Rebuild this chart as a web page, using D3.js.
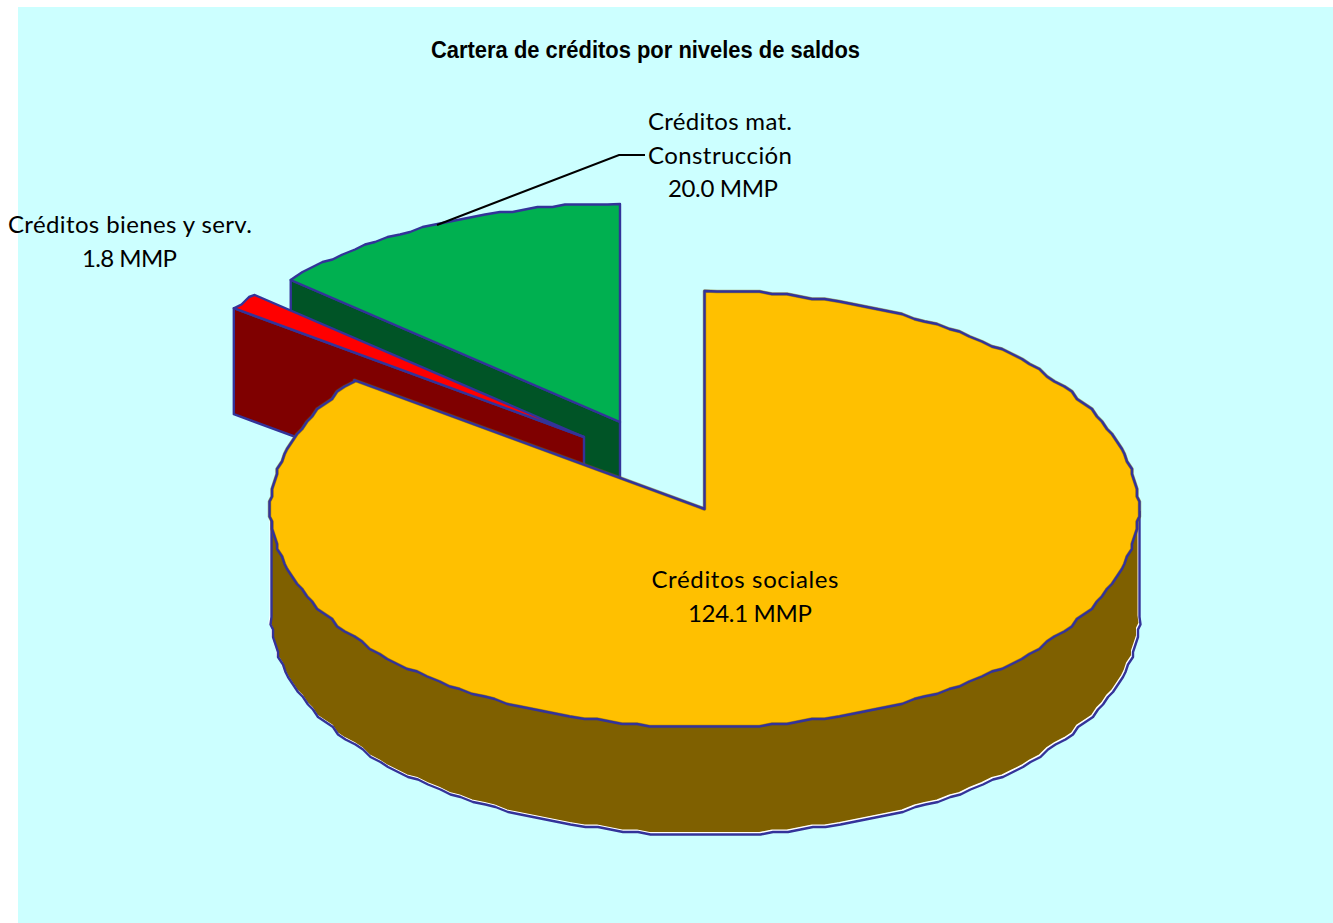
<!DOCTYPE html>
<html lang="es">
<head>
<meta charset="utf-8">
<title>Cartera de créditos por niveles de saldos</title>
<script src="https://cdn.jsdelivr.net/npm/d3@7"></script>
<style>
  html, body { margin: 0; padding: 0; background: #ffffff; overflow: hidden; }
  svg { display: block; }
</style>
</head>
<body>
<svg id="chart" width="1333" height="923"></svg>
<script>
// Balances in MMP, clockwise from twelve o'clock
const categories = ["Créditos sociales", "Créditos bienes y serv.", "Créditos mat. Construcción"];
const values = [124.1, 1.8, 20.0];
const valueLabels = values.map(v => v.toFixed(1) + " MMP");
const topColors = ["#FFC000", "#FF0000", "#00B050"];
const sideColors = ["#7F6000", "#7F0000", "#005426"];

const chartTitle = "Cartera de créditos por niveles de saldos";

// Pie geometry: tilted ellipse, extrusion depth and each wedge's pulled-out origin
const radiusX = 434, radiusY = 218, depth = 106;
const origins = [[704.5, 509], [584, 437], [620, 422]];
const edgeColor = "#333399";
const rimGrid = 2.5;         // the outline snaps to a coarse device grid
const rimSteps = 200;        // chords in a full turn

const svg = d3.select("#chart");

svg.append("rect")
  .attr("x", 18).attr("y", 7)
  .attr("width", 1315).attr("height", 916)
  .attr("fill", "#CCFFFF");

const arcs = d3.pie().sort(null).value(d => d)(values);

const unitX = d3.scaleLinear().domain([-1, 1]).range([-radiusX, radiusX]);
const unitY = d3.scaleLinear().domain([-1, 1]).range([-radiusY, radiusY]);
const snap = v => Math.round(v / rimGrid) * rimGrid;
const line = d3.line();

// Point on a wedge's rim; angle is measured clockwise from the top
function rimPoint(origin, angle, drop = 0, snapped = false) {
  const dx = unitX(Math.sin(angle));
  const dy = unitY(-Math.cos(angle));
  const px = snapped ? snap(dx) : dx;
  const py = snapped ? snap(dy) : dy;
  return [origin[0] + px, origin[1] + py + drop];
}

// Rim polyline between two angles
function rimPoints(origin, a0, a1, drop = 0) {
  const step = 2 * Math.PI / rimSteps;
  const pts = [rimPoint(origin, a0, drop)];
  for (let k = Math.ceil(a0 / step + 1e-6); k * step < a1 - 1e-6; k++) {
    pts.push(rimPoint(origin, k * step, drop, true));
  }
  pts.push(rimPoint(origin, a1, drop));
  return pts;
}

const styleEdge = (sel, width = 2.4) => sel
  .attr("stroke", edgeColor)
  .attr("stroke-width", width)
  .attr("stroke-linejoin", "round");

// The two small wedges first: cut face, then top surface
[2, 1].forEach(i => {
  const a = arcs[i], o = origins[i];
  const rim = rimPoint(o, a.startAngle);
  const face = [rim, o, [o[0], o[1] + depth], [rim[0], rim[1] + depth]];
  svg.append("path")
    .attr("d", line(face) + "Z")
    .attr("fill", sideColors[i])
    .call(styleEdge);
  const top = [o, ...rimPoints(o, a.startAngle, a.endAngle)];
  svg.append("path")
    .attr("d", line(top) + "Z")
    .attr("fill", topColors[i])
    .call(styleEdge);
});

// Large wedge: visible outer wall, from three o'clock round to nine o'clock
const main = arcs[0], mainOrigin = origins[0];
const wallStart = Math.PI / 2, wallEnd = 3 * Math.PI / 2;
const upperRim = rimPoints(mainOrigin, wallStart, wallEnd);
const lowerRim = rimPoints(mainOrigin, wallStart, wallEnd, depth);

svg.append("path")
  .attr("d", line([...upperRim, ...lowerRim.slice().reverse()]) + "Z")
  .attr("fill", sideColors[0]);

// White sliver between the wall's fill and its slightly offset outline
const wallOutline = line([upperRim[0], ...lowerRim, upperRim[upperRim.length - 1]]);
svg.append("path")
  .attr("d", wallOutline)
  .attr("transform", "translate(0,0.5)")
  .attr("fill", "none")
  .attr("stroke", "#ffffff")
  .attr("stroke-width", 2);
svg.append("path")
  .attr("d", wallOutline)
  .attr("transform", "translate(1,2)")
  .attr("fill", "none")
  .call(styleEdge);

// Top surface of the large wedge with its soft shadow line along the edge
const mainTop = line([mainOrigin, ...rimPoints(mainOrigin, main.startAngle, main.endAngle)]) + "Z";
svg.append("path")
  .attr("d", mainTop)
  .attr("fill", topColors[0])
  .attr("stroke", d3.color(sideColors[0]).copy({ opacity: 0.55 }))
  .attr("stroke-width", 3.5)
  .attr("stroke-linejoin", "round");
svg.append("path")
  .attr("d", mainTop)
  .attr("fill", "none")
  .call(styleEdge);

// Title
svg.append("text")
  .attr("x", 645.5).attr("y", 58)
  .attr("text-anchor", "middle")
  .attr("font-family", "'Liberation Sans', Arial, sans-serif")
  .attr("font-weight", 700)
  .attr("font-size", 23)
  .attr("textLength", 429)
  .attr("lengthAdjust", "spacingAndGlyphs")
  .attr("fill", "#000000")
  .text(chartTitle);

// Leader line for the construction wedge
svg.append("path")
  .attr("d", line([[437, 225], [619, 155], [645, 155]]))
  .attr("fill", "none")
  .attr("stroke", "#000000")
  .attr("stroke-width", 2);

// Data labels
const labelRows = [
  { text: "Créditos sociales", cx: 745, y: 588, w: 187 },
  { text: valueLabels[0], cx: 750, y: 622, w: 124 },
  { text: "Créditos mat.", cx: 720, y: 130, w: 144 },
  { text: "Construcción", cx: 720, y: 164, w: 144 },
  { text: valueLabels[2], cx: 723, y: 197, w: 110 },
  { text: "Créditos bienes y serv.", cx: 130, y: 233, w: 244 },
  { text: valueLabels[1], cx: 129.5, y: 267, w: 95 }
];

svg.append("g")
  .selectAll("text")
  .data(labelRows)
  .join("text")
  .attr("x", d => d.cx)
  .attr("y", d => d.y)
  .attr("text-anchor", "middle")
  .attr("font-family", "Lato, 'Open Sans', sans-serif")
  .attr("font-size", 24)
  .attr("textLength", d => d.w)
  .attr("lengthAdjust", "spacing")
  .attr("fill", "#000000")
  .text(d => d.text);
</script>
</body>
</html>
